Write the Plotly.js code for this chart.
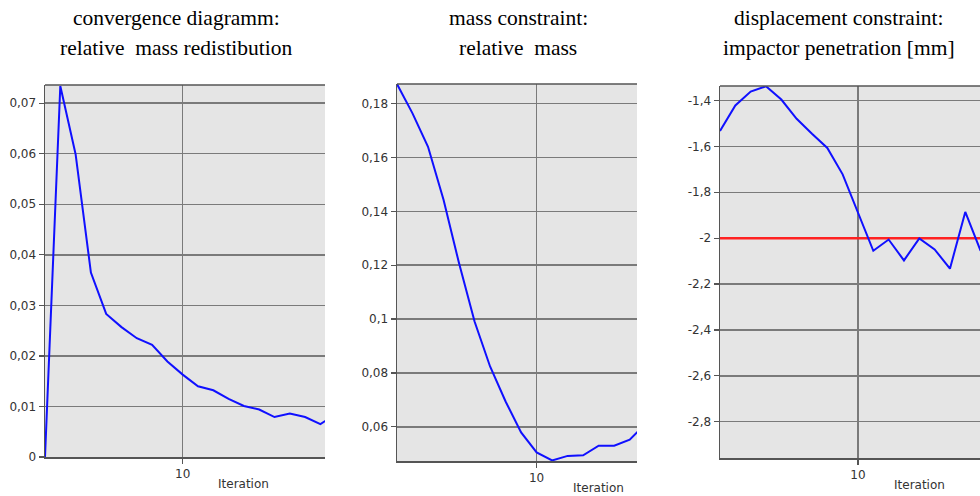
<!DOCTYPE html>
<html><head><meta charset="utf-8">
<script src="https://cdn.plot.ly/plotly-3.0.1.min.js"></script>
<style>html,body{margin:0;padding:0;background:#fff}#c{width:980px;height:496px}</style>
</head><body><div id="c"></div>
<script>
// Data
const iterA = [1,2,3,4,5,6,7,8,9,10,11,12,13,14,15,16,17,18,19,20];
const massRedistribution = [0,0.0734,0.0599,0.0365,0.0283,0.0257,0.0235,0.0222,0.0189,0.0163,0.0140,0.0132,0.0115,0.0101,0.0094,0.0079,0.0086,0.0079,0.0065,0.0085];
const iterB = [1,2,3,4,5,6,7,8,9,10,11,12,13,14,15,16,17];
const relativeMass = [0.1873,0.1764,0.1640,0.1443,0.1207,0.0991,0.0824,0.0694,0.0579,0.0505,0.0475,0.0492,0.0494,0.0530,0.0530,0.0552,0.0610];
const iterC = [1,2,3,4,5,6,7,8,9,10,11,12,13,14,15,16,17,18];
const penetration = [-1.533,-1.422,-1.361,-1.338,-1.396,-1.480,-1.545,-1.607,-1.722,-1.886,-2.055,-2.006,-2.097,-2.001,-2.049,-2.133,-1.886,-2.055];
const limitX = [0, 30];
const limitY = [-2, -2];
const titleLine1 = ["convergence diagramm:", "mass constraint:", "displacement constraint:"];
const titleLine2 = ["relative  mass redistibution", "relative  mass", "impactor penetration [mm]"];
const xTickVals = [10];
const xTickText = ["10"];
const yTicksA = [0,0.01,0.02,0.03,0.04,0.05,0.06,0.07];
const yTicksAText = ["0","0,01","0,02","0,03","0,04","0,05","0,06","0,07"];
const yTicksB = [0.06,0.08,0.1,0.12,0.14,0.16,0.18];
const yTicksBText = ["0,06","0,08","0,1","0,12","0,14","0,16","0,18"];
const yTicksC = [-2.8,-2.6,-2.4,-2.2,-2,-1.8,-1.6,-1.4];
const yTicksCText = ["-2,8","-2,6","-2,4","-2,2","-2","-1,8","-1,6","-1,4"];
const xLabel = "Iteration";

const W = 980, H = 496;
const blue = '#1010ff';
const line = {color: blue, width: 2};
const traces = [
  {x: iterA, y: massRedistribution, xaxis: 'x', yaxis: 'y', mode: 'lines', line: line},
  {x: iterB, y: relativeMass, xaxis: 'x2', yaxis: 'y2', mode: 'lines', line: line},
  {x: limitX, y: limitY, xaxis: 'x3', yaxis: 'y3', mode: 'lines', line: {color: '#ff2222', width: 2.5}},
  {x: iterC, y: penetration, xaxis: 'x3', yaxis: 'y3', mode: 'lines', line: line}
];

// panel boxes in pixels: left, right, top, bottom
const boxes = [[45,325,85,457],[397,637,84,461],[720,980,86,458]];
const xr = [[1,19.3],[1,16.47],[1,17.96]];
const yr = [[0,0.0736],[0.0473,0.1873],[-2.958,-1.337]];
const yt = [[yTicksA,yTicksAText],[yTicksB,yTicksBText],[yTicksC,yTicksCText]];
const tickFont = {family: 'DejaVu Sans', size: 12, color: '#333'};

const layout = {
  width: W, height: H, margin: {l:0,r:0,t:0,b:0}, showlegend: false,
  paper_bgcolor: '#fff', plot_bgcolor: '#e5e5e5', separators: ',.',
  shapes: [], annotations: []
};
const centers = [176, 518, 839];
const titleFont = {family: 'Liberation Serif', size: 21.5, color: '#000'};
boxes.forEach((b, i) => {
  const s = i === 0 ? '' : String(i+1);
  layout['xaxis'+s] = {
    domain: [b[0]/W, b[1]/W], range: xr[i], anchor: 'y'+s,
    tickmode: 'array', tickvals: xTickVals, ticktext: xTickText,
    showgrid: true, gridcolor: '#7a7a7a', gridwidth: 1.5,
    ticks: 'outside', ticklen: 5, tickcolor: '#555', tickwidth: 1.2,
    showline: true, linecolor: '#555', linewidth: 1.5,
    zeroline: false, tickfont: tickFont, fixedrange: true
  };
  layout['yaxis'+s] = {
    domain: [(H-b[3])/H, (H-b[2])/H], range: yr[i], anchor: 'x'+s,
    tickmode: 'array', tickvals: yt[i][0], ticktext: yt[i][1],
    showgrid: true, gridcolor: '#7a7a7a', gridwidth: 1.5,
    ticks: 'outside', ticklen: 5, tickcolor: '#555', tickwidth: 1.2,
    showline: true, linecolor: '#555', linewidth: 1.5,
    zeroline: false, tickfont: tickFont, fixedrange: true
  };
  layout.shapes.push({type: 'line', xref: 'paper', yref: 'paper',
    x0: b[0]/W, x1: b[1]/W, y0: (H-b[2])/H, y1: (H-b[2])/H,
    line: {color: '#555', width: 1.5}});
  layout.annotations.push({text: titleLine1[i], xref: 'paper', yref: 'paper',
    x: centers[i]/W, y: (H-18)/H, xanchor: 'center', yanchor: 'middle', showarrow: false,
    font: titleFont});
  layout.annotations.push({text: titleLine2[i], xref: 'paper', yref: 'paper',
    x: centers[i]/W, y: (H-48)/H, xanchor: 'center', yanchor: 'middle', showarrow: false,
    font: titleFont});
});
const labelX = [243, 598, 919];
const labelY = [484, 488, 485];
labelX.forEach((lx, i) => {
  layout.annotations.push({text: xLabel, xref: 'paper', yref: 'paper',
    x: lx/W, y: (H-labelY[i])/H, xanchor: 'center', yanchor: 'middle', showarrow: false,
    font: {family: 'DejaVu Sans', size: 12, color: '#333'}});
});
Plotly.newPlot('c', traces, layout, {staticPlot: true, displayModeBar: false});
</script></body></html>
